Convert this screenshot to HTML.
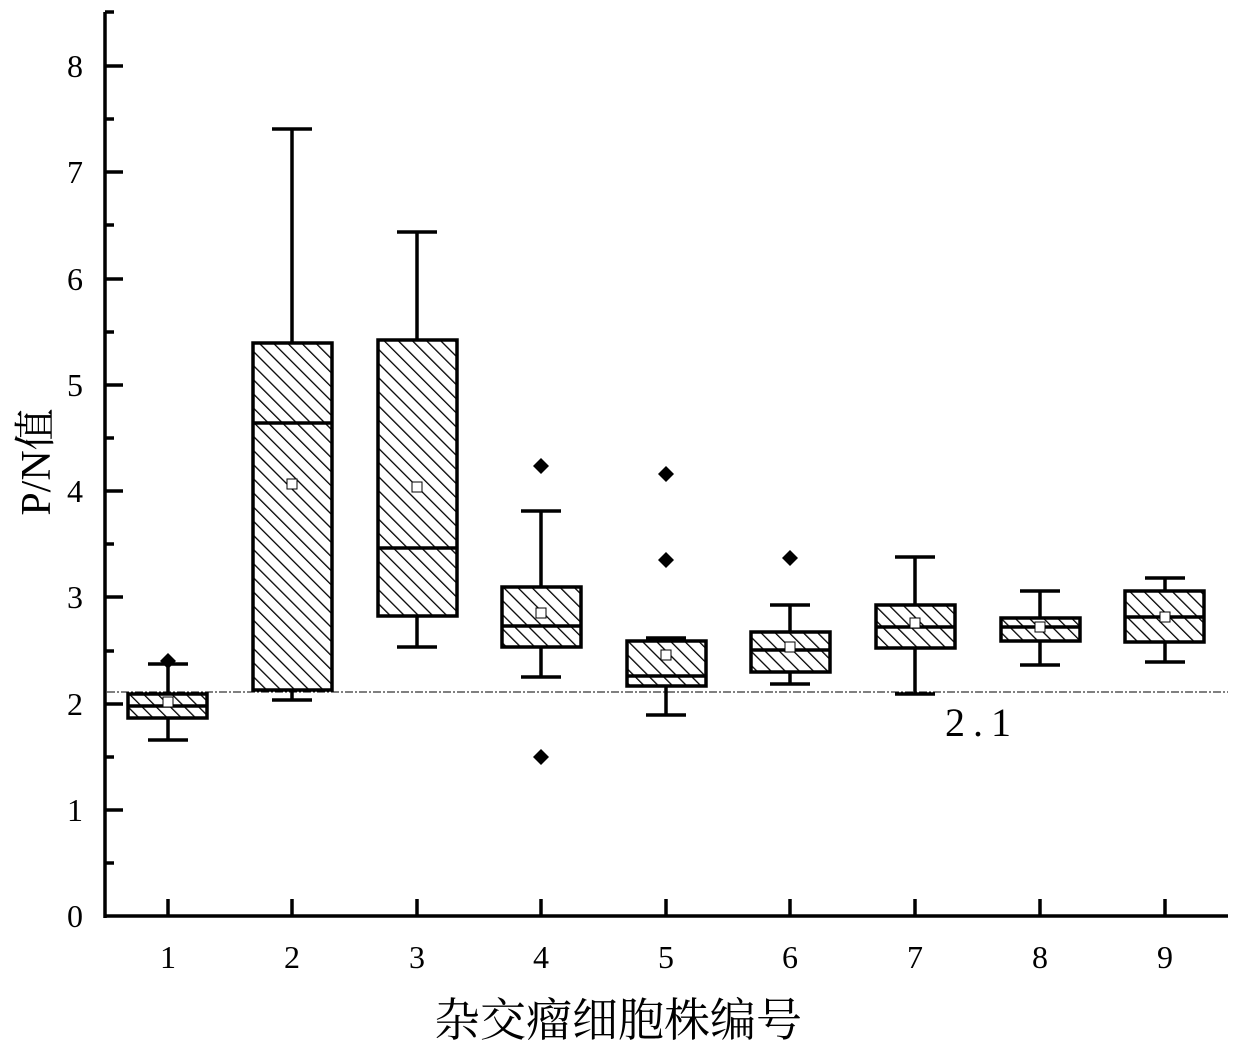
<!DOCTYPE html>
<html><head><meta charset="utf-8"><style>
html,body{margin:0;padding:0;background:#fff;}
svg{display:block;}
text{font-family:"Liberation Serif","Noto Serif CJK SC",serif;fill:#000;}
</style></head><body>
<svg width="1240" height="1054" viewBox="0 0 1240 1054" xmlns="http://www.w3.org/2000/svg">
<defs>
<pattern id="h" patternUnits="userSpaceOnUse" width="10" height="10" patternTransform="rotate(-45)">
<rect width="10" height="10" fill="#fff"/>
<line x1="0" y1="0" x2="0" y2="10" stroke="#000" stroke-width="2.6"/>
</pattern>
</defs>
<g stroke="#000" stroke-width="3.5">
<line x1="105" y1="12" x2="105" y2="918"/>
<line x1="104" y1="916" x2="1228" y2="916"/>
<line x1="105" y1="12" x2="114" y2="12"/>
</g>
<g stroke="#000" stroke-width="3.5">
<line x1="105" y1="66" x2="123" y2="66"/><line x1="105" y1="119" x2="114" y2="119"/>
<line x1="105" y1="172" x2="123" y2="172"/><line x1="105" y1="225" x2="114" y2="225"/>
<line x1="105" y1="279" x2="123" y2="279"/><line x1="105" y1="332" x2="114" y2="332"/>
<line x1="105" y1="385" x2="123" y2="385"/><line x1="105" y1="438" x2="114" y2="438"/>
<line x1="105" y1="491" x2="123" y2="491"/><line x1="105" y1="544" x2="114" y2="544"/>
<line x1="105" y1="597" x2="123" y2="597"/><line x1="105" y1="651" x2="114" y2="651"/>
<line x1="105" y1="704" x2="123" y2="704"/><line x1="105" y1="757" x2="114" y2="757"/>
<line x1="105" y1="810" x2="123" y2="810"/><line x1="105" y1="863" x2="114" y2="863"/>
<line x1="168" y1="899" x2="168" y2="916"/><line x1="292" y1="899" x2="292" y2="916"/>
<line x1="417" y1="899" x2="417" y2="916"/><line x1="541" y1="899" x2="541" y2="916"/>
<line x1="666" y1="899" x2="666" y2="916"/><line x1="790" y1="899" x2="790" y2="916"/>
<line x1="915" y1="899" x2="915" y2="916"/><line x1="1040" y1="899" x2="1040" y2="916"/>
<line x1="1165" y1="899" x2="1165" y2="916"/>
</g>
<g font-size="32" text-anchor="middle">
<text x="75" y="77">8</text><text x="75" y="183">7</text><text x="75" y="290">6</text>
<text x="75" y="396">5</text><text x="75" y="502">4</text><text x="75" y="608">3</text>
<text x="75" y="715">2</text><text x="75" y="821">1</text><text x="75" y="927">0</text>
<text x="168" y="968">1</text><text x="292" y="968">2</text><text x="417" y="968">3</text>
<text x="541" y="968">4</text><text x="666" y="968">5</text><text x="790" y="968">6</text>
<text x="915" y="968">7</text><text x="1040" y="968">8</text><text x="1165" y="968">9</text>
</g>
<text x="618" y="1036" font-size="46" text-anchor="middle">杂交瘤细胞株编号</text>
<text transform="translate(50,462) rotate(-90)" font-size="42" text-anchor="middle">P/N值</text>
<line x1="107" y1="692" x2="1228" y2="692" stroke="#000" stroke-width="1" stroke-dasharray="8,2,2,2"/>
<text x="945" y="736" font-size="40" letter-spacing="8">2.1</text>
<g stroke="#000" stroke-width="3.5">
<line x1="168" y1="664" x2="168" y2="740"/><line x1="148" y1="664" x2="188" y2="664"/><line x1="148" y1="740" x2="188" y2="740"/>
<line x1="292" y1="129" x2="292" y2="700"/><line x1="272" y1="129" x2="312" y2="129"/><line x1="272" y1="700" x2="312" y2="700"/>
<line x1="417" y1="232" x2="417" y2="647"/><line x1="397" y1="232" x2="437" y2="232"/><line x1="397" y1="647" x2="437" y2="647"/>
<line x1="541" y1="511" x2="541" y2="677"/><line x1="521" y1="511" x2="561" y2="511"/><line x1="521" y1="677" x2="561" y2="677"/>
<line x1="666" y1="638" x2="666" y2="715"/><line x1="646" y1="638" x2="686" y2="638"/><line x1="646" y1="715" x2="686" y2="715"/>
<line x1="790" y1="605" x2="790" y2="684"/><line x1="770" y1="605" x2="810" y2="605"/><line x1="770" y1="684" x2="810" y2="684"/>
<line x1="915" y1="557" x2="915" y2="694"/><line x1="895" y1="557" x2="935" y2="557"/><line x1="895" y1="694" x2="935" y2="694"/>
<line x1="1040" y1="591" x2="1040" y2="665"/><line x1="1020" y1="591" x2="1060" y2="591"/><line x1="1020" y1="665" x2="1060" y2="665"/>
<line x1="1165" y1="578" x2="1165" y2="662"/><line x1="1145" y1="578" x2="1185" y2="578"/><line x1="1145" y1="662" x2="1185" y2="662"/>
<rect x="128" y="694" width="79" height="24" fill="url(#h)"/><line x1="128" y1="706" x2="207" y2="706"/>
<rect x="253" y="343" width="79" height="347" fill="url(#h)"/><line x1="253" y1="423" x2="332" y2="423"/>
<rect x="378" y="340" width="79" height="276" fill="url(#h)"/><line x1="378" y1="548" x2="457" y2="548"/>
<rect x="502" y="587" width="79" height="60" fill="url(#h)"/><line x1="502" y1="626" x2="581" y2="626"/>
<rect x="627" y="641" width="79" height="45" fill="url(#h)"/><line x1="627" y1="676" x2="706" y2="676"/>
<rect x="751" y="632" width="79" height="40" fill="url(#h)"/><line x1="751" y1="650" x2="830" y2="650"/>
<rect x="876" y="605" width="79" height="43" fill="url(#h)"/><line x1="876" y1="627" x2="955" y2="627"/>
<rect x="1001" y="618" width="79" height="23" fill="url(#h)"/><line x1="1001" y1="627" x2="1080" y2="627"/>
<rect x="1125" y="591" width="79" height="51" fill="url(#h)"/><line x1="1125" y1="617" x2="1204" y2="617"/>
</g>
<g fill="#fff" stroke="#000" stroke-width="1">
<rect x="163" y="697" width="10" height="10"/>
<rect x="287" y="479" width="10" height="10"/>
<rect x="412" y="482" width="10" height="10"/>
<rect x="536" y="608" width="10" height="10"/>
<rect x="661" y="650" width="10" height="10"/>
<rect x="785" y="642" width="10" height="10"/>
<rect x="910" y="618" width="10" height="10"/>
<rect x="1035" y="622" width="10" height="10"/>
<rect x="1160" y="612" width="10" height="10"/>
</g>
<g fill="#000">
<polygon points="168,653 176,661 168,669 160,661"/>
<polygon points="541,458 549,466 541,474 533,466"/>
<polygon points="541,749 549,757 541,765 533,757"/>
<polygon points="666,466 674,474 666,482 658,474"/>
<polygon points="666,552 674,560 666,568 658,560"/>
<polygon points="790,550 798,558 790,566 782,558"/>
</g>
</svg>
</body></html>
